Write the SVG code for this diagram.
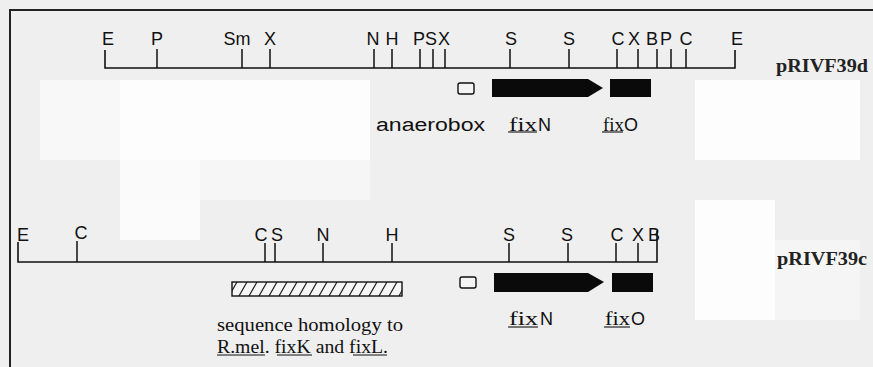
<svg xmlns="http://www.w3.org/2000/svg" width="873" height="367" viewBox="0 0 873 367">
  <style>
    .site { font-family: "Liberation Sans", Arial, sans-serif; font-size: 18px; fill: #111; text-anchor: middle; }
    .lab { font-family: "Liberation Sans", Arial, sans-serif; font-size: 18px; fill: #111; }
    .ser { font-family: "Liberation Serif", "Times New Roman", serif; font-size: 18px; fill: #111; }
    .plasmid { font-family: "Liberation Serif", "Times New Roman", serif; font-size: 18px; font-weight: bold; fill: #222; }
    .line { stroke: #111; stroke-width: 1.6; fill: none; }
    .tick { stroke: #111; stroke-width: 1.5; }
    .gene { fill: #0a0a0a; }
    .box { fill: #f4f4f4; stroke: #111; stroke-width: 1.4; }
    .ul { stroke: #111; stroke-width: 1.1; }
  </style>
  <defs>
    <pattern id="hatch" patternUnits="userSpaceOnUse" width="10" height="14" x="232" y="282">
      <rect width="10" height="14" fill="#f6f6f6"/>
      <path d="M-3,14 L5,0 M7,14 L15,0" stroke="#222" stroke-width="1.2"/>
    </pattern>
  </defs>

  <!-- paper -->
  <rect width="873" height="367" fill="#efefef"/>
  <g id="paper-tone" fill="#fdfdfd">
    <rect x="120" y="80" width="250" height="80"/>
    <rect x="40" y="80" width="80" height="80" fill="#f8f8f8"/>
    <rect x="695" y="80" width="165" height="80"/>
    <rect x="120" y="160" width="80" height="80" fill="#fafafa"/>
    <rect x="200" y="160" width="170" height="40" fill="#f6f6f6"/>
    <rect x="695" y="200" width="80" height="120"/>
    <rect x="775" y="240" width="85" height="80" fill="#f5f5f5"/>
    <rect x="120" y="200" width="80" height="40" fill="#fbfbfb"/>
  </g>

  <!-- frame -->
  <g id="frame">
    <line x1="10" y1="10" x2="873" y2="10" stroke="#222" stroke-width="2"/>
    <line x1="10" y1="9" x2="10" y2="367" stroke="#222" stroke-width="2"/>
  </g>

  <!-- pRIVF39d restriction map -->
  <g id="map-pRIVF39d">
    <path class="line" d="M105,50 V68 H735 V50"/>
    <g class="tick">
      <line x1="157" y1="49" x2="157" y2="68"/>
      <line x1="242" y1="49" x2="242" y2="68"/>
      <line x1="270" y1="49" x2="270" y2="68"/>
      <line x1="374" y1="49" x2="374" y2="68"/>
      <line x1="392" y1="49" x2="392" y2="68"/>
      <line x1="420" y1="49" x2="420" y2="68"/>
      <line x1="433" y1="49" x2="433" y2="68"/>
      <line x1="445" y1="49" x2="445" y2="68"/>
      <line x1="510" y1="49" x2="510" y2="68"/>
      <line x1="569" y1="49" x2="569" y2="68"/>
      <line x1="617" y1="49" x2="617" y2="68"/>
      <line x1="638" y1="49" x2="638" y2="68"/>
      <line x1="657" y1="49" x2="657" y2="68"/>
      <line x1="671" y1="49" x2="671" y2="68"/>
      <line x1="686" y1="49" x2="686" y2="68"/>
    </g>
    <g class="site">
      <text x="108" y="45">E</text>
      <text x="157" y="45">P</text>
      <text x="237" y="45">Sm</text>
      <text x="270" y="45">X</text>
      <text x="373" y="45">N</text>
      <text x="392" y="45">H</text>
      <text x="419" y="45">P</text>
      <text x="431" y="45">S</text>
      <text x="444" y="45">X</text>
      <text x="511" y="45">S</text>
      <text x="569" y="45">S</text>
      <text x="618" y="45">C</text>
      <text x="634" y="45">X</text>
      <text x="652" y="45">B</text>
      <text x="666" y="45">P</text>
      <text x="686" y="45">C</text>
      <text x="737" y="45">E</text>
    </g>
    <text class="plasmid" x="776" y="72" textLength="92" lengthAdjust="spacingAndGlyphs">pRIVF39d</text>
  </g>

  <!-- pRIVF39d genes -->
  <g id="genes-pRIVF39d">
    <rect class="box" x="458" y="83" width="16" height="11" rx="2"/>
    <path class="gene" d="M492,79 H588 L603,88 L588,97 H492 Z"/>
    <rect class="gene" x="610" y="79" width="41" height="18"/>
    <text class="lab" x="376" y="131" textLength="109" lengthAdjust="spacingAndGlyphs">anaerobox</text>
    <text class="ser" x="509" y="131" textLength="28" lengthAdjust="spacingAndGlyphs">fix</text>
    <text class="lab" x="538" y="131">N</text>
    <line class="ul" x1="508" y1="132" x2="537" y2="132"/>
    <text class="ser" x="603" y="131" textLength="21" lengthAdjust="spacingAndGlyphs">fix</text>
    <text class="lab" x="624" y="131">O</text>
    <line class="ul" x1="602" y1="132" x2="623" y2="132"/>
  </g>

  <!-- pRIVF39c restriction map -->
  <g id="map-pRIVF39c">
    <path class="line" d="M18,242 V262 H657 V231"/>
    <g class="tick">
      <line x1="77" y1="241" x2="77" y2="262"/>
      <line x1="265" y1="243" x2="265" y2="262"/>
      <line x1="275" y1="243" x2="275" y2="262"/>
      <line x1="323" y1="243" x2="323" y2="262"/>
      <line x1="392" y1="243" x2="392" y2="262"/>
      <line x1="509" y1="243" x2="509" y2="262"/>
      <line x1="568" y1="243" x2="568" y2="262"/>
      <line x1="616" y1="243" x2="616" y2="262"/>
      <line x1="638" y1="243" x2="638" y2="262"/>
    </g>
    <g class="site">
      <text x="23" y="241">E</text>
      <text x="81" y="239">C</text>
      <text x="261" y="241">C</text>
      <text x="277" y="241">S</text>
      <text x="323" y="241">N</text>
      <text x="392" y="241">H</text>
      <text x="509" y="241">S</text>
      <text x="567" y="241">S</text>
      <text x="617" y="241">C</text>
      <text x="638" y="241">X</text>
      <text x="654" y="241">B</text>
    </g>
    <text class="plasmid" x="777" y="265" textLength="90" lengthAdjust="spacingAndGlyphs">pRIVF39c</text>
  </g>

  <!-- pRIVF39c genes and homology region -->
  <g id="genes-pRIVF39c">
    <rect x="232" y="282" width="170" height="14" fill="url(#hatch)" stroke="#111" stroke-width="1.4"/>
    <rect class="box" x="460" y="277" width="16" height="11" rx="2"/>
    <path class="gene" d="M494,273 H588 L604,282 L588,292 H494 Z"/>
    <rect class="gene" x="612" y="273" width="41" height="19"/>
    <text class="ser" x="509" y="325" textLength="29" lengthAdjust="spacingAndGlyphs">fix</text>
    <text class="lab" x="540" y="325">N</text>
    <line class="ul" x1="508" y1="327" x2="538" y2="327"/>
    <text class="ser" x="605" y="325" textLength="25" lengthAdjust="spacingAndGlyphs">fix</text>
    <text class="lab" x="631" y="325">O</text>
    <line class="ul" x1="604" y1="327" x2="630" y2="327"/>
  </g>

  <!-- caption for the hatched region -->
  <g id="homology-note">
    <text class="ser" x="217" y="331" textLength="186" lengthAdjust="spacingAndGlyphs">sequence homology to</text>
    <text class="ser" x="217" y="353" textLength="171" lengthAdjust="spacingAndGlyphs">R.mel. fixK and fixL.</text>
    <line class="ul" x1="217" y1="355" x2="265" y2="355"/>
    <line class="ul" x1="277" y1="355" x2="312" y2="355"/>
    <line class="ul" x1="353" y1="355" x2="387" y2="355"/>
  </g>
</svg>
